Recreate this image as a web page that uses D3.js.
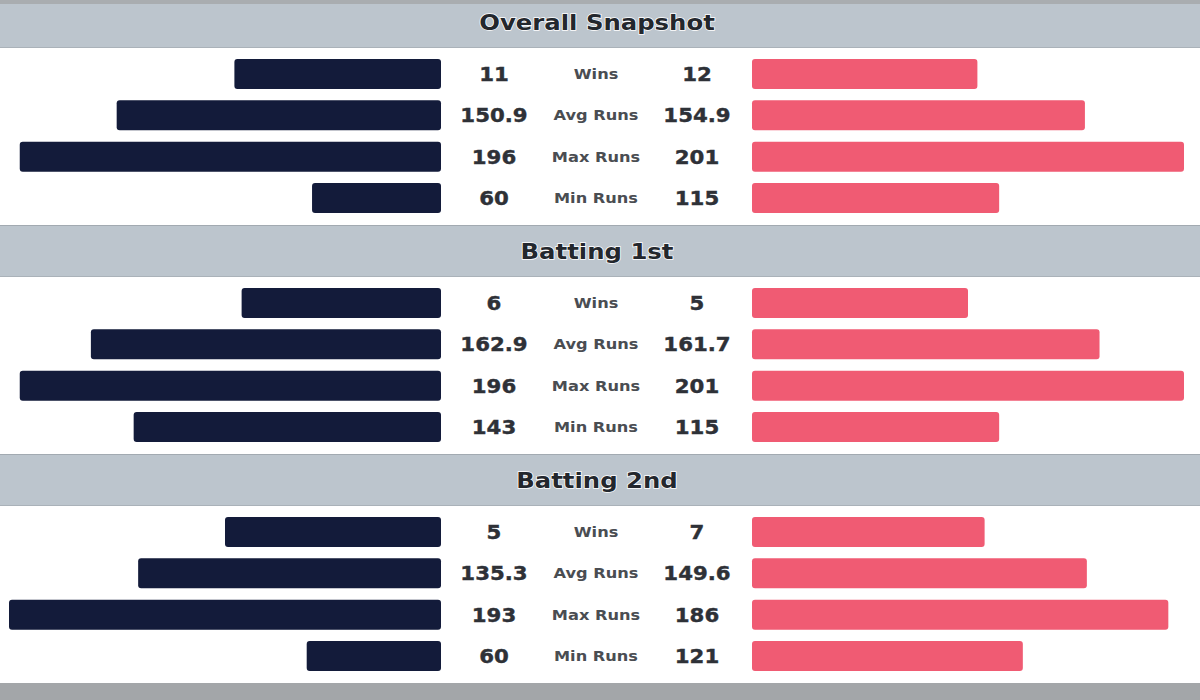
<!DOCTYPE html>
<html>
<head>
<meta charset="utf-8">
<script src="https://cdn.jsdelivr.net/npm/d3@7"></script>
<style>
  body { margin: 0; background: #fff; }
  svg { display: block; }
</style>
</head>
<body>
<script>
const sections = ['Overall Snapshot', 'Batting 1st', 'Batting 2nd'];
const metrics = ['Wins', 'Avg Runs', 'Max Runs', 'Min Runs'];

// team values per section, in metric order
const teamA = [
  [11, 150.9, 196, 60],
  [6, 162.9, 196, 143],
  [5, 135.3, 193, 60]
];
const teamB = [
  [12, 154.9, 201, 115],
  [5, 161.7, 201, 115],
  [7, 149.6, 186, 121]
];
// matches played, used to turn wins into a share for the bar
const matchesA = [23, 13, 10];
const matchesB = [23, 10, 13];

const width = 1200;
const height = 700;
const sectionHeight = 229;
const headerHeight = 52;
const sectionTop = -4;
const barHeight = 30;
const barMax = 432;
const leftEdge = 441;
const rightEdge = 752;

const svg = d3.select('body')
  .append('svg')
  .attr('width', width)
  .attr('height', height);

svg.append('rect')
  .attr('x', 0).attr('y', 0)
  .attr('width', width).attr('height', height)
  .attr('fill', '#fff');

const sectionY = d3.scaleBand()
  .domain(sections)
  .range([sectionTop, sectionTop + sectionHeight * sections.length]);

const rowY = d3.scalePoint()
  .domain(metrics)
  .range([headerHeight + 26, headerHeight + 150]);

const bar = d3.scaleLinear().range([0, barMax]);

// wide bold text, stretched sideways like the source image
const wideText = (parent, x, y, str, size, stretch, fill) => {
  const t = parent.append('text')
    .attr('transform', 'translate(' + x + ',' + y + ') scale(' + stretch + ',1)')
    .attr('dy', '0.36em')
    .attr('text-anchor', 'middle')
    .attr('font-family', 'DejaVu Sans')
    .attr('font-weight', 'bold')
    .attr('font-size', size)
    .attr('fill', fill)
    .text(str);
  return t;
};

sections.forEach((name, s) => {
  const g = svg.append('g')
    .attr('transform', 'translate(0,' + sectionY(name) + ')');

  // header band
  g.append('rect')
    .attr('x', 0).attr('y', 0)
    .attr('width', width).attr('height', headerHeight)
    .attr('fill', '#bcc5cd');
  g.append('line')
    .attr('x1', 0).attr('x2', width)
    .attr('y1', 0.5).attr('y2', 0.5)
    .attr('stroke', '#a2aab1');
  g.append('line')
    .attr('x1', 0).attr('x2', width)
    .attr('y1', headerHeight - 0.5).attr('y2', headerHeight - 0.5)
    .attr('stroke', '#aab2b9');

  wideText(g, 597, headerHeight / 2, name, 21, 1.16, '#23272d')
    .attr('stroke', '#fff')
    .attr('stroke-width', 1.4)
    .attr('paint-order', 'stroke');

  const runsMax = d3.max(teamA[s].slice(1).concat(teamB[s].slice(1)));

  metrics.forEach((m, i) => {
    const a = teamA[s][i];
    const b = teamB[s][i];
    let wa, wb;
    if (m === 'Wins') {
      bar.domain([0, 1]);
      wa = bar(a / matchesA[s]);
      wb = bar(b / matchesB[s]);
    } else {
      bar.domain([0, runsMax]);
      wa = bar(a);
      wb = bar(b);
    }
    const y = rowY(m);

    g.append('rect')
      .attr('x', leftEdge - wa)
      .attr('y', y - barHeight / 2)
      .attr('width', wa)
      .attr('height', barHeight)
      .attr('rx', 3)
      .attr('fill', '#131b3a');

    g.append('rect')
      .attr('x', rightEdge)
      .attr('y', y - barHeight / 2)
      .attr('width', wb)
      .attr('height', barHeight)
      .attr('rx', 3)
      .attr('fill', '#f05b73');

    wideText(g, 494, y, a, 19, 1.12, '#2e3137')
      .attr('stroke', '#2e3137').attr('stroke-width', 0.4);
    wideText(g, 697, y, b, 19, 1.12, '#2e3137')
      .attr('stroke', '#2e3137').attr('stroke-width', 0.4);
    wideText(g, 596, y, m, 13.5, 1.2, '#4a4d52');
  });
});

// grey strips at top and bottom of the frame
svg.append('rect')
  .attr('x', 0).attr('y', 0)
  .attr('width', width).attr('height', 4)
  .attr('fill', '#a9adb0');
svg.append('rect')
  .attr('x', 0).attr('y', sectionTop + sectionHeight * sections.length)
  .attr('width', width).attr('height', 30)
  .attr('fill', '#a3a6a9');
</script>
</body>
</html>
